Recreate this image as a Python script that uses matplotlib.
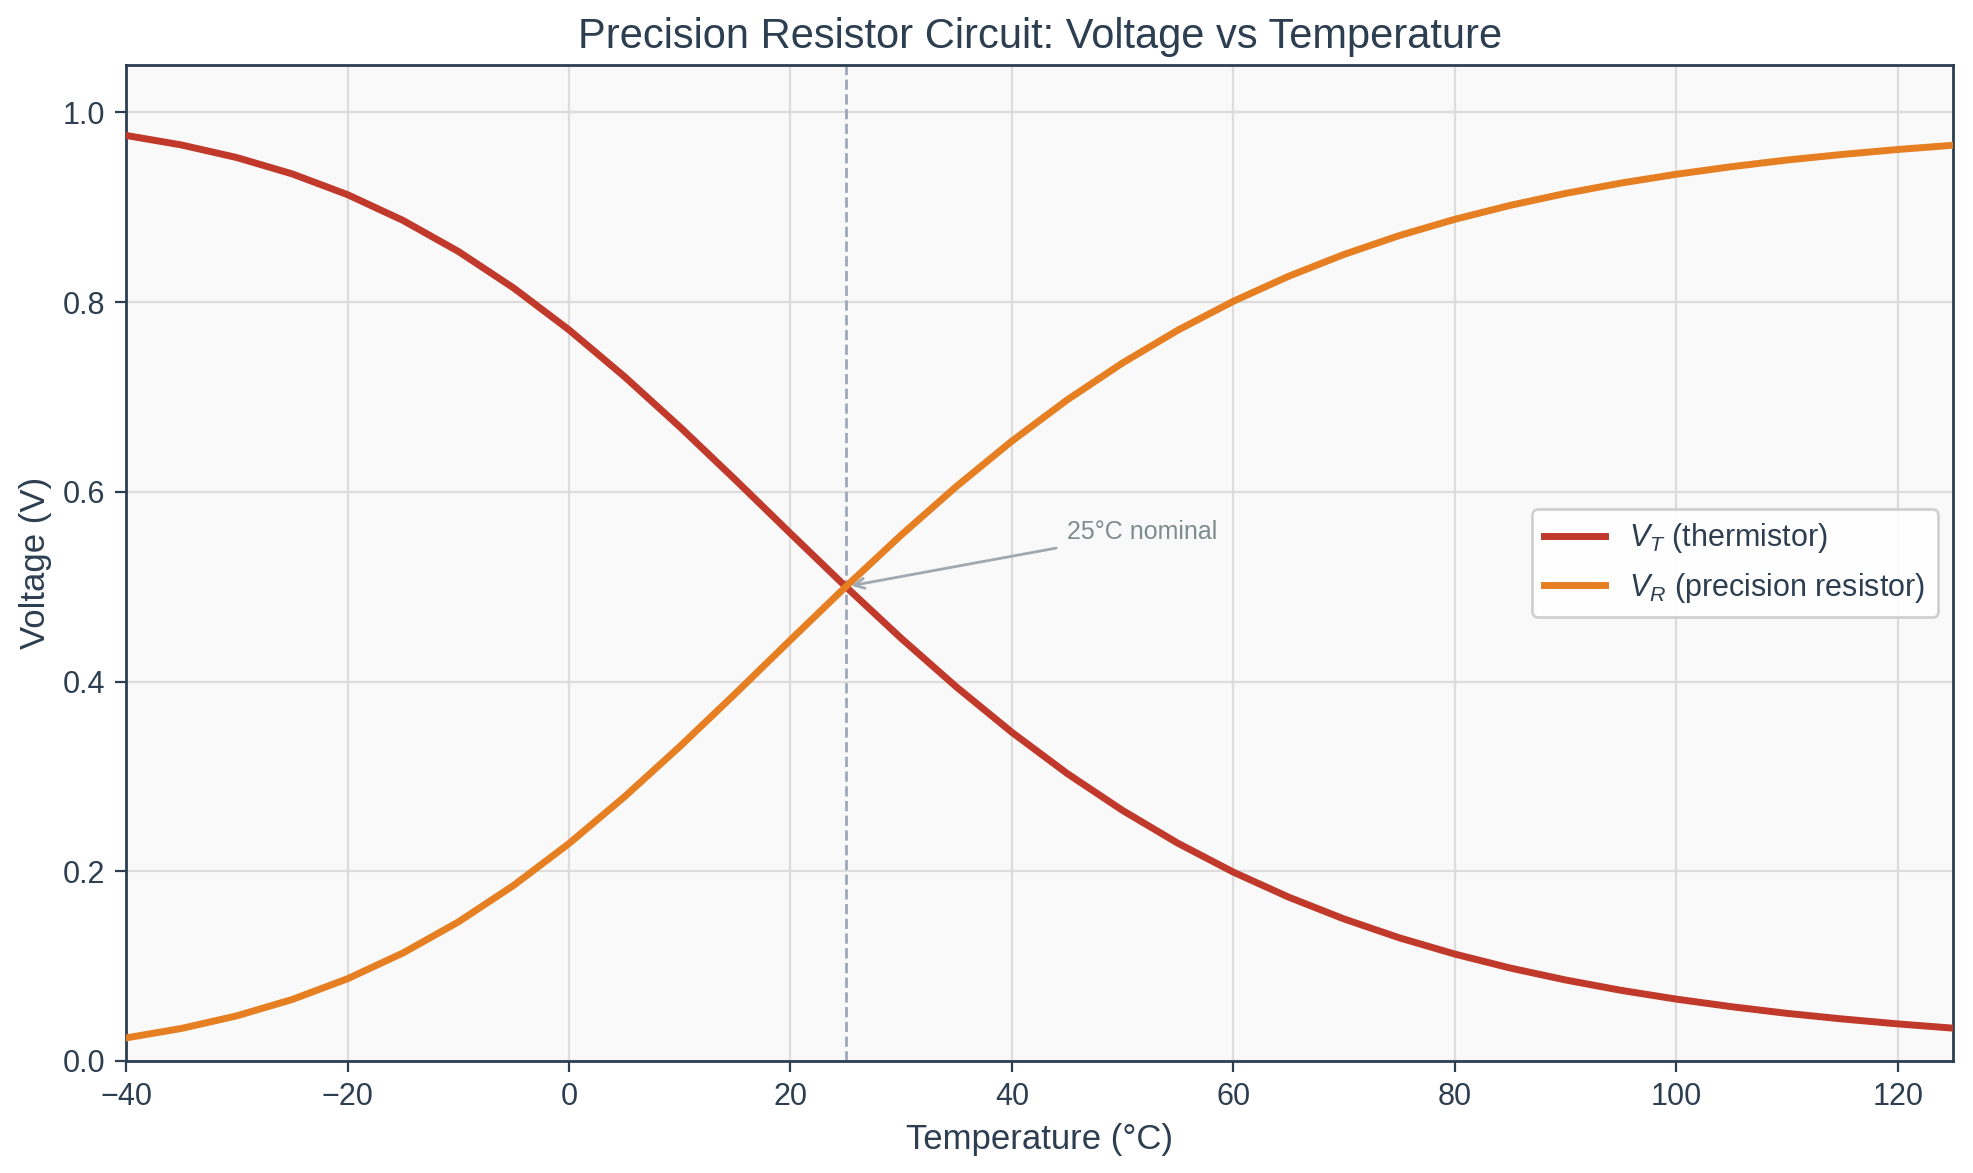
import numpy as np
import matplotlib.pyplot as plt

# temperature points (deg C) and the two voltages
temps = [-40, -35, -30, -25, -20, -15, -10, -5, 0, 5, 10, 15, 20, 25, 30, 35, 40,
         45, 50, 55, 60, 65, 70, 75, 80, 85, 90, 95, 100, 105, 110, 115, 120, 125]
v_therm = [0.9757, 0.9657, 0.9524, 0.9352, 0.9133, 0.8862, 0.8535, 0.8149, 0.7708,
           0.7216, 0.6686, 0.6130, 0.5562, 0.5000, 0.4456, 0.3942, 0.3465, 0.3030,
           0.2641, 0.2295, 0.1991, 0.1727, 0.1497, 0.1298, 0.1127, 0.0980, 0.0854,
           0.0745, 0.0652, 0.0572, 0.0502, 0.0443, 0.0391, 0.0346]
v_res = [0.0243, 0.0343, 0.0476, 0.0648, 0.0867, 0.1138, 0.1465, 0.1851, 0.2292,
         0.2784, 0.3314, 0.3870, 0.4438, 0.5000, 0.5544, 0.6058, 0.6535, 0.6970,
         0.7359, 0.7705, 0.8009, 0.8273, 0.8503, 0.8702, 0.8873, 0.9020, 0.9146,
         0.9255, 0.9348, 0.9428, 0.9498, 0.9557, 0.9609, 0.9654]

txt = '#2c3e50'
plt.rcParams['font.family'] = ['Liberation Sans', 'DejaVu Sans']
plt.rcParams['mathtext.fontset'] = 'custom'
plt.rcParams['mathtext.it'] = 'Liberation Sans:italic'
plt.rcParams['mathtext.rm'] = 'Liberation Sans'

fig, ax = plt.subplots(figsize=(9.865, 5.865), dpi=200)
fig.subplots_adjust(left=0.0639, right=0.9899, top=0.9446, bottom=0.0955)
ax.set_facecolor('#f9f9f9')

ax.plot(temps, v_therm, color='#c0392b', lw=2.5, label=r'$V_T$ (thermistor)', zorder=3)
ax.plot(temps, v_res, color='#e67e22', lw=2.5, label=r'$V_R$ (precision resistor)', zorder=3)
ax.axvline(25, color='#a0a8b8', ls='--', lw=1, zorder=2)
ax.annotate('25°C nominal', xy=(25, 0.5), xytext=(45, 0.55), fontsize=9, color='#7f8c8d',
            arrowprops=dict(arrowstyle='->', color='#a0a8b0', lw=1))

ax.set_xlim(-40, 125)
ax.set_ylim(0, 1.05)
ax.grid(True, color='#dcdcdc', lw=0.8, zorder=0)
ax.set_axisbelow(True)
for s in ax.spines.values():
    s.set_color(txt)
    s.set_linewidth(1.0)
ax.tick_params(colors=txt, labelsize=11, length=4)

ax.set_xlabel('Temperature (°C)', fontsize=12.5, color=txt)
ax.set_ylabel('Voltage (V)', fontsize=12.5, color=txt)
ax.set_title('Precision Resistor Circuit: Voltage vs Temperature', fontsize=15, color=txt)
leg = ax.legend(loc='center right', fontsize=11, labelcolor=txt, framealpha=0.9)
leg.get_frame().set_edgecolor('#cccccc')

plt.savefig('out.png', dpi=200)
